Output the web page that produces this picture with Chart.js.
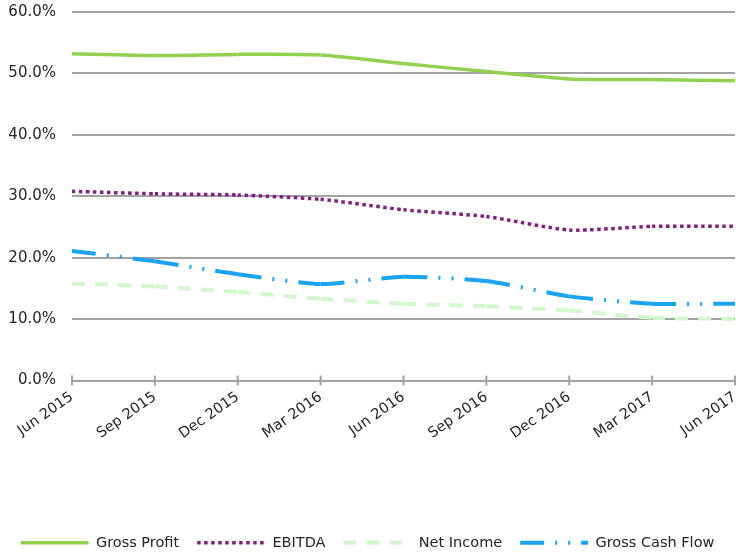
<!DOCTYPE html>
<html><head><meta charset="utf-8">
<script src="https://cdn.jsdelivr.net/npm/chart.js@4/dist/chart.umd.min.js"></script>
<style>html,body{margin:0;padding:0;background:#fff}#wrap{width:736px;height:553px}</style>
</head><body><div id="wrap"><canvas id="c" width="736" height="553"></canvas></div>
<script>
const categories = ['Jun 2015','Sep 2015','Dec 2015','Mar 2016','Jun 2016','Sep 2016','Dec 2016','Mar 2017','Jun 2017'];
const grossProfit = [53.2,52.9,53.1,53.0,51.6,50.3,49.1,49.0,48.8];
const ebitda = [30.8,30.4,30.2,29.5,27.8,26.7,24.5,25.1,25.1];
const netIncome = [15.8,15.3,14.4,13.3,12.5,12.1,11.4,10.2,10.0];
const grossCashFlow = [21.1,19.4,17.3,15.7,16.9,16.2,13.7,12.5,12.5];
const yTicks = [0,10,20,30,40,50,60];
const seriesNames = ['Gross Profit','EBITDA','Net Income','Gross Cash Flow'];

const FONT = 'DejaVu Sans';
const GRID = '#A3A3A3';
const restart = { borderDashOffset: c => (c.p0DataIndex % 2) * 0.0001 };

const tickMarks = {
  id: 'tickMarks',
  afterDraw(chart) {
    const xs = chart.scales.x, ys = chart.scales.y, ctx = chart.ctx;
    const y0 = ys.getPixelForValue(0);
    ctx.save();
    ctx.strokeStyle = GRID; ctx.lineWidth = 2;
    ctx.beginPath();
    for (let i = 0; i < categories.length; i++) {
      const x = xs.getPixelForTick(i);
      ctx.moveTo(x, y0 - 5); ctx.lineTo(x, y0 + 5);
    }
    ctx.stroke();
    ctx.restore();
  }
};

function ds(label, data, color, width, dash) {
  return { label, data, borderColor: color, backgroundColor: color, borderWidth: width,
    borderDash: dash, borderCapStyle: 'butt', pointRadius: 0, pointHoverRadius: 0,
    tension: 0.2, fill: false, segment: restart };
}

new Chart(document.getElementById('c'), {
  type: 'line',
  data: {
    labels: categories,
    datasets: [
      ds(seriesNames[0], grossProfit, '#92D050', 3.5, []),
      ds(seriesNames[1], ebitda, '#7F1F7F', 3.5, [3.5, 3.5]),
      ds(seriesNames[2], netIncome, '#D3F6CE', 4, [13, 10]),
      ds(seriesNames[3], grossCashFlow, '#1AA3F0', 4, [24, 11, 2, 11, 2, 11])
    ]
  },
  options: {
    responsive: false,
    devicePixelRatio: 1,
    animation: false,
    layout: { padding: { top: 12, left: 0, right: 1, bottom: -7 } },
    plugins: {
      tooltip: { enabled: false },
      legend: {
        position: 'bottom',
        labels: {
          usePointStyle: true, pointStyle: 'line', pointStyleWidth: 68,
          padding: 18, color: '#262626',
          font: { family: FONT, size: 14.5 },
          generateLabels(chart) {
            const items = Chart.defaults.plugins.legend.labels.generateLabels(chart);
            items.forEach((it, i) => {
              const d = chart.data.datasets[i];
              it.lineDash = d.borderDash; it.lineDashOffset = 0;
              it.lineWidth = d.borderWidth; it.strokeStyle = d.borderColor;
              it.pointStyle = 'line';
            });
            return items;
          }
        }
      }
    },
    scales: {
      x: {
        grid: { display: false, drawTicks: false },
        border: { display: false },
        ticks: { autoSkip: false, minRotation: 35, maxRotation: 35, padding: 8,
          color: '#262626', font: { family: FONT, size: 14.5 } },
        afterFit(s) { s.height = 137; s.paddingLeft = 0; s.paddingRight = 0; }
      },
      y: {
        min: 0, max: 60,
        grid: { color: GRID, lineWidth: 2, drawTicks: false },
        border: { display: false },
        ticks: { padding: 16, color: '#262626', font: { family: FONT, size: 15 },
          callback: v => Number(v).toFixed(1) + '%' },
        afterBuildTicks(s) { s.ticks = yTicks.map(v => ({ value: v })); },
        afterFit(s) { s.width = 72; s.paddingTop = 0; s.paddingBottom = 0; }
      }
    }
  },
  plugins: [tickMarks]
});
</script></body></html>
